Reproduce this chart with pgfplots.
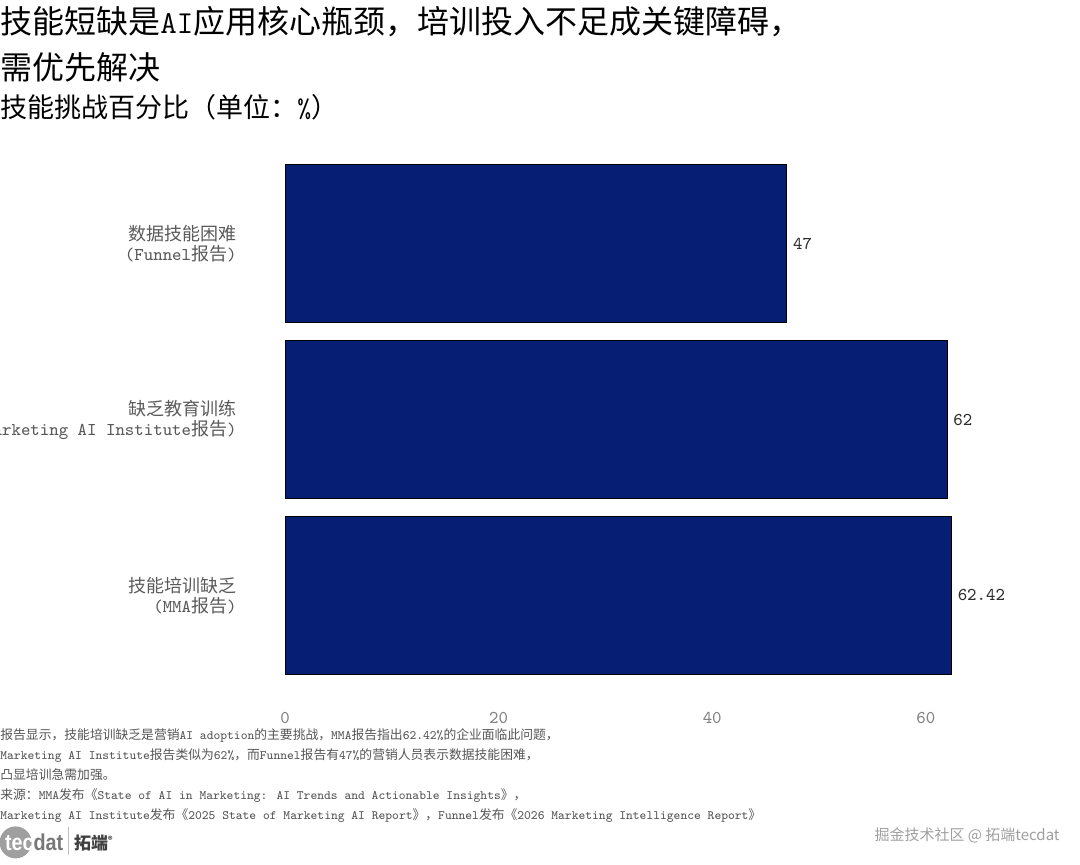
\documentclass[border=0pt]{standalone}
\usepackage{pgfplots}
\pgfplotsset{compat=1.18}
\usepackage{fontspec}
\renewcommand{\familydefault}{\ttdefault}
\newfontfamily\cjk{Noto Sans CJK SC}
\newfontfamily\logofont{Liberation Sans}
\definecolor{barnavy}{RGB}{6,30,115}
\definecolor{labgray}{RGB}{90,90,90}
\definecolor{tickgray}{RGB}{130,130,130}
\definecolor{valgray}{RGB}{45,45,45}
\definecolor{notegray}{RGB}{85,85,85}
\definecolor{logogray}{RGB}{120,120,120}

\begin{document}
\begin{tikzpicture}
\path[use as bounding box] (0,0) rectangle (540pt,432pt);

% titles
\node[anchor=base west, inner sep=0pt, font=\fontsize{16}{18}\selectfont] at (0pt,415.3pt)
  {{\cjk 技能短缺是}AI{\cjk 应用核心瓶颈，培训投入不足成关键障碍，}};
\node[anchor=base west, inner sep=0pt, font=\fontsize{16}{18}\selectfont] at (0pt,392.3pt)
  {{\cjk 需优先解决}};
\node[anchor=base west, inner sep=0pt, font=\fontsize{13.5}{15}\selectfont] at (0pt,373pt)
  {{\cjk 技能挑战百分比（单位：}\%{\cjk ）}};

\begin{axis}[
  at={(142.5pt,82pt)}, anchor=south west,
  scale only axis, width=350pt, height=280.5pt,
  xbar, bar width=79.2pt,
  xmin=0, xmax=65.54, ymin=-0.595, ymax=2.595,
  axis line style={draw=none},
  major tick length=0pt,
  /pgf/number format/assume math mode=true,
  xtick={0,20,40,60},
  ytick={0,1,2},
  yticklabels={
    {{\cjk 技能培训缺乏}\\(MMA{\cjk 报告})},
    {{\cjk 缺乏教育训练}\\(Marketing AI Institute{\cjk 报告})},
    {{\cjk 数据技能困难}\\(Funnel{\cjk 报告})}},
  yticklabel style={align=right, anchor=east, inner sep=0pt, xshift=-24pt,
    font=\fontsize{9}{10}\selectfont, text=labgray},
  xticklabel style={anchor=north, inner sep=0pt, yshift=-5.7pt,
    font=\fontsize{9}{10}\selectfont, text=tickgray},
  nodes near coords={\pgfmathprintnumber[fixed,precision=2]{\pgfplotspointmeta}},
  nodes near coords style={anchor=west, inner sep=0pt, xshift=2.8pt,
    font=\fontsize{9}{10}\selectfont, text=valgray},
]
\addplot[fill=barnavy, draw=black, line width=0.5pt]
  coordinates {(62.42,0) (62,1) (47,2)};
\end{axis}

% footnote
\begin{scope}[every node/.style={anchor=base west, inner sep=0pt,
    font=\fontsize{6.4}{7}\selectfont, text=notegray}]
\node at (0pt,62.5pt) {{\cjk 报告显示，技能培训缺乏是营销}AI adoption{\cjk 的主要挑战，}MMA{\cjk 报告指出}62.42\%{\cjk 的企业面临此问题，}};
\node at (0pt,52.5pt) {Marketing AI Institute{\cjk 报告类似为}62\%{\cjk ，而}Funnel{\cjk 报告有}47\%{\cjk 的营销人员表示数据技能困难，}};
\node at (0pt,42.5pt) {{\cjk 凸显培训急需加强。}};
\node at (0pt,32.5pt) {{\cjk 来源：}MMA{\cjk 发布《}State of AI in Marketing: AI Trends and Actionable Insights{\cjk 》，}};
\node at (0pt,22.5pt) {Marketing AI Institute{\cjk 发布《}2025 State of Marketing AI Report{\cjk 》，}Funnel{\cjk 发布《}2026 Marketing Intelligence Report{\cjk 》}};
\end{scope}

% logo
\fill[gray!75] (7.8pt,10.8pt) circle (8pt);
\node[anchor=base west, inner sep=0pt, font=\logofont\bfseries\fontsize{11.5}{12}\selectfont]
  at (2.3pt,7pt) {\scalebox{0.86}[1]{\textcolor{white}{tec}\textcolor{logogray}{dat}}};
\draw[gray!50, line width=0.5pt] (34pt,4.5pt) -- (34pt,18.5pt);
\node[anchor=base west, inner sep=0pt, font=\cjk\bfseries\fontsize{8.5}{9}\selectfont, text=darkgray]
  at (36.8pt,7.5pt) {拓端\raisebox{3pt}{\fontsize{4.5}{5}\selectfont ®}};

% watermark
\node[anchor=base east, inner sep=0pt, font=\cjk\fontsize{7.5}{8}\selectfont, text=gray!75]
  at (530pt,12pt) {掘金技术社区 @ 拓端tecdat};
\end{tikzpicture}
\end{document}
